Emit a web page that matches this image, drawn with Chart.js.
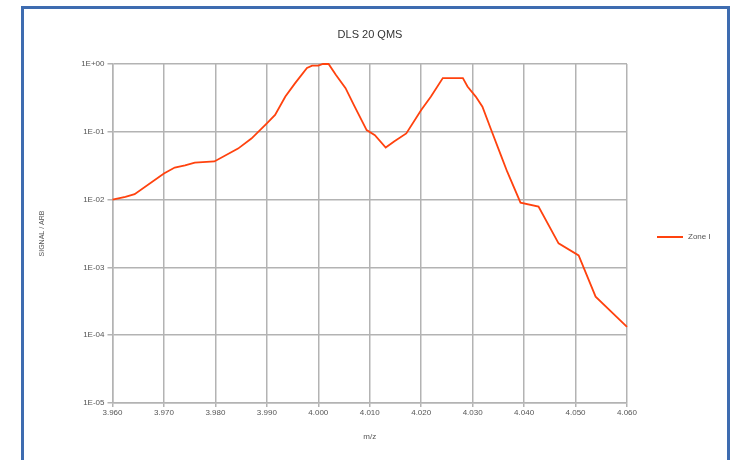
<!DOCTYPE html>
<html>
<head>
<meta charset="utf-8">
<script src="https://cdn.jsdelivr.net/npm/chart.js@4"></script>
<style>
  html, body { margin: 0; padding: 0; background: #fff; overflow: hidden; }
  #wrap { position: relative; width: 738px; height: 460px; }
  #frame {
    position: absolute; left: 21px; top: 6px; width: 703px; height: 470px;
    border: 3px solid #3e6cb0; border-bottom: none; pointer-events: none;
  }
</style>
</head>
<body>
<div id="wrap">
  <canvas id="chart" width="738" height="460"></canvas>
  <div id="frame"></div>
</div>
<script>
const mz = [
  3.960, 3.9625, 3.9643, 3.970, 3.9721, 3.9741, 3.976, 3.9798, 3.9844, 3.987,
  3.990, 3.9916, 3.9936, 3.9955, 3.9978, 3.9988, 4.000, 4.0009, 4.002, 4.0034,
  4.0053, 4.0069, 4.0094, 4.011, 4.0131, 4.0148, 4.0171, 4.020, 4.0219, 4.0242,
  4.0281, 4.029, 4.0306, 4.0319, 4.0335, 4.0355, 4.0367, 4.0393, 4.0428, 4.0467,
  4.0506, 4.0539, 4.060
];
const zone1 = [
  0.0100, 0.0110, 0.0120, 0.0242, 0.0297, 0.0321, 0.0352, 0.0365, 0.0565, 0.0796,
  0.133, 0.177, 0.331, 0.522, 0.872, 0.944, 0.944, 1.0, 1.0, 0.695,
  0.44, 0.249, 0.106, 0.089, 0.0585, 0.0727, 0.0945, 0.21, 0.331, 0.62,
  0.62, 0.466, 0.331, 0.235, 0.112, 0.045, 0.026, 0.0090, 0.0079, 0.00226,
  0.0015, 0.00037, 0.000133
];
const xTicks = [3.96, 3.97, 3.98, 3.99, 4.00, 4.01, 4.02, 4.03, 4.04, 4.05, 4.06];
const yTicks = [1e-5, 1e-4, 1e-3, 1e-2, 1e-1, 1];

const chartTitle = 'DLS 20 QMS';
const seriesName = 'Zone I';
const lineColor = '#ff420e';
const gridColor = '#b3b3b3';
const textColor = '#555';
const font = 'Liberation Sans';

function expLabel(v) {
  const e = Math.round(Math.log10(v));
  const sign = e >= 0 ? '+' : '-';
  return '1E' + sign + String(Math.abs(e)).padStart(2, '0');
}

// title and legend sit where the original put them, not where Chart.js would
const extraText = {
  id: 'extraText',
  afterDraw(chart) {
    const ctx = chart.ctx;
    ctx.save();
    ctx.fillStyle = '#333';
    ctx.font = '11px "' + font + '"';
    ctx.textAlign = 'center';
    ctx.textBaseline = 'middle';
    ctx.fillText(chartTitle, 370, 35);

    const y = 237;
    ctx.strokeStyle = lineColor;
    ctx.lineWidth = 2;
    ctx.beginPath();
    ctx.moveTo(657, y);
    ctx.lineTo(683, y);
    ctx.stroke();
    ctx.fillStyle = textColor;
    ctx.font = '8px "' + font + '"';
    ctx.textAlign = 'left';
    ctx.fillText(seriesName, 688, y);
    ctx.restore();
  }
};

new Chart(document.getElementById('chart'), {
  type: 'line',
  data: {
    datasets: [{
      label: seriesName,
      data: mz.map((x, i) => ({ x: x, y: zone1[i] })),
      borderColor: lineColor,
      borderWidth: 1.8,
      pointRadius: 0,
      tension: 0,
      fill: false,
      clip: false
    }]
  },
  options: {
    responsive: false,
    animation: false,
    layout: { padding: { left: 30, right: 111, top: 64, bottom: 0 } },
    plugins: {
      legend: { display: false },
      tooltip: { enabled: false },
      title: { display: false }
    },
    scales: {
      x: {
        type: 'linear',
        min: 3.96,
        max: 4.06,
        afterBuildTicks: s => { s.ticks = xTicks.map(v => ({ value: v })); },
        afterFit: s => { s.height = 57; },
        ticks: {
          color: textColor,
          font: { family: font, size: 8 },
          padding: 1,
          maxRotation: 0,
          autoSkip: false,
          callback: v => Number(v).toFixed(3)
        },
        grid: { color: gridColor, lineWidth: 1.5, tickLength: 4 },
        border: { color: gridColor, width: 1.5 },
        title: {
          display: true,
          text: 'm/z',
          color: textColor,
          font: { family: font, size: 8 },
          padding: { top: 0, bottom: 18 }
        }
      },
      y: {
        type: 'logarithmic',
        min: 1e-5,
        max: 1,
        afterBuildTicks: s => { s.ticks = yTicks.map(v => ({ value: v })); },
        afterFit: s => { s.width = 82.5; },
        ticks: {
          color: textColor,
          font: { family: font, size: 8 },
          padding: 3,
          autoSkip: false,
          callback: v => expLabel(v)
        },
        grid: { color: gridColor, lineWidth: 1.5, tickLength: 5 },
        border: { color: gridColor, width: 1.5 },
        title: {
          display: true,
          text: 'SIGNAL / ARB',
          color: textColor,
          font: { family: font, size: 7 },
          padding: { top: 8, bottom: 0 }
        }
      }
    }
  },
  plugins: [extraText]
});
</script>
</body>
</html>
